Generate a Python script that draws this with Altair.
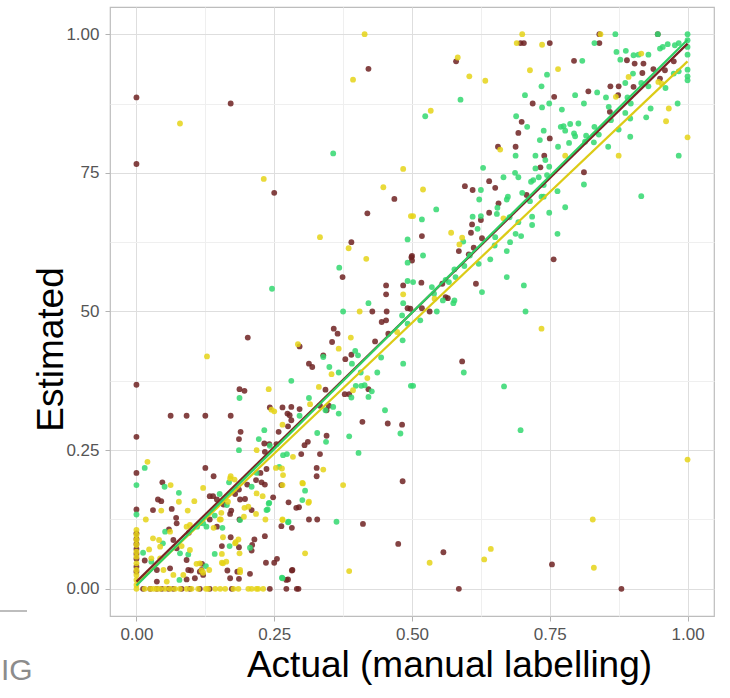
import altair as alt
import pandas as pd

# ---- data (actual, estimated) ----
brown_pts = [
    (0.421,0.9375),(0,0.886),(0.171,0.875),(0,0.766),(0.25,0.714),(0.468,0.703),(0.419,0.677),(0.390,0.625),
    (0.499,0.598),(0.374,0.562),(0.453,0.547),(0.484,0.547),(0.453,0.531),(0.497,0.505),
    (0.840,1.0),(0.946,1.0),(0.697,0.984),(0.703,0.984),(0.750,0.984),(0.840,0.984),(0.580,0.951),(0.794,0.952),
    (0.758,0.887),(0.719,0.875),(0.820,0.897),(0.860,0.906),(0.875,0.906),(0.874,0.890),(0.890,0.953),(0.904,0.947),
    (0.920,0.947),(0.918,0.930),(0.938,0.937),(0.950,0.920),(0.959,0.935),(0.975,0.951),(0.902,0.905),(0.859,0.860),
    (0.699,0.842),(0.693,0.822),(0.750,0.812),(0.656,0.797),(0.688,0.797),(0.740,0.781),(0.596,0.726),(0.610,0.719),
    (0.640,0.735),(0.651,0.723),(0.733,0.760),(0.812,0.751),(0.708,0.710),(0.518,0.636),(0.585,0.609),(0.609,0.657),
    (0.607,0.642),(0.625,0.665),(0.640,0.678),(0.657,0.695),(0.627,0.632),(0.612,0.615),(0.603,0.603),(0.555,0.550),
    (0.517,0.552),(0.757,0.594),(0.616,0.550),(0.500,0.600),(0.500,0.592),(0.561,0.526),(0.565,0.524),
    (0.428,0.500),(0.454,0.500),(0.492,0.506),(0.445,0.481),(0.453,0.484),(0.457,0.460),(0.358,0.469),(0.365,0.460),
    (0.433,0.446),(0.355,0.445),(0.390,0.422),(0.379,0.414),(0.421,0.360),(0.386,0.351),(0.378,0.351),(0.202,0.453),
    (0.296,0.437),(0,0.368),(0,0.274),(0.062,0.312),(0.091,0.312),(0.125,0.312),(0.171,0.312),(0.187,0.360),
    (0.196,0.357),(0.313,0.406),(0.319,0.400),(0.339,0.421),(0.343,0.359),(0.349,0.330),(0.345,0.322),(0.333,0.330),
    (0.345,0.276),(0.410,0.301),(0.456,0.298),(0.482,0.296),(0.242,0.327),(0.265,0.327),(0.281,0.328),(0.296,0.324),
    (0.274,0.316),(0.278,0.313),(0.281,0.304),(0.275,0.293),(0.258,0.283),(0.189,0.283),(0.186,0.270),(0.232,0.262),
    (0.241,0.261),(0.233,0.247),(0.254,0.261),(0.299,0.243),(0.305,0.259),(0.311,0.265),(0.333,0.243),(0.327,0.218),
    (0.327,0.203),(0.411,0.117),(0.475,0.081),(0.483,0.194),
    (0,0.209),(0,0.143),(0.047,0.192),(0.039,0.161),(0.045,0.158),(0.030,0.142),(0.064,0.144),(0.072,0.128),
    (0.125,0.218),(0.140,0.203),(0.133,0.167),(0.139,0.167),(0.146,0.161),(0.158,0.152),(0.172,0.141),(0.170,0.135),
    (0.179,0.171),(0.186,0.179),(0.197,0.162),(0.188,0.161),(0.187,0.125),(0.201,0.188),(0.209,0.142),(0.217,0.196),
    (0.225,0.209),(0.227,0.192),(0.236,0.216),(0.233,0.188),(0.248,0.165),(0.263,0.187),(0.276,0.156),(0.290,0.146),
    (0.295,0.147),(0.313,0.125),(0.328,0.125),(0.263,0.113),(0.282,0.110),
    (0.133,0.125),(0.095,0.101),(0.146,0.112),(0.171,0.093),(0.155,0.077),(0.186,0.075),(0.210,0.079),(0.214,0.089),
    (0.209,0.069),(0.233,0.095),(0.235,0.047),(0.250,0.047),(0.255,0.054),(0.275,0.017),(0.282,0.033),(0.165,0.033),
    (0.186,0.018),(0.119,0.045),(0.099,0.033),
    (0.518,0.506),(0.532,0.500),(0.591,0.410),(0.557,0.066),(0.754,0.044),(0.585,0.0),(0.880,0.0),
    (0.059,0.107),(0.073,0.118),(0.067,0.088),(0.015,0.051),(0.037,0.034),(0.073,0.073),(0.091,0.052),(0.061,0.037),
    (0.094,0.034),(0.106,0.019),(0.118,0.034),(0.091,0.017),(0.037,0.013),(0.115,0.031),(0.121,0.025),(0.183,0.031),
    (0.206,0.027),(0.170,0.019),(0.283,0.034),(0.272,0.016),
    (0,0.100),(0,0.090),(0,0.081),(0,0.072),(0,0.063),(0,0.054),(0,0.040),(0,0.031),
    (0.012,0),(0.025,0),(0.037,0),(0.046,0),(0.058,0),(0.067,0),(0.082,0),(0.097,0),(0.115,0),(0.133,0),
    (0.173,0),(0.242,0),(0.272,0),(0.291,0),(0.294,0),
]

green_pts = [
    (0.357,0.785),(0.492,0.630),(0.368,0.579),(0.492,0.588),(0.246,0.541),(0.421,0.515),(0.484,0.515),(0.492,0.555),
    (0.869,1.0),(1.0,1.0),(0.946,1.0),(0.831,0.984),(0.809,0.952),(0.745,0.927),(0.588,0.882),(0.524,0.852),(0.735,0.906),
    (0.705,0.890),(0.749,0.875),(0.736,0.868),(0.796,0.890),(0.812,0.875),(0.836,0.895),(0.852,0.886),(0.871,0.968),
    (0.878,0.954),(0.888,0.970),(0.902,0.962),(0.911,0.963),(0.929,0.963),(0.901,0.929),(0.950,0.974),(0.955,0.977),
    (0.964,0.982),(0.977,0.980),(0.984,0.984),(1.0,0.989),(1.0,0.977),(1.0,0.963),(1.0,0.936),(1.0,0.924),(1.0,0.917),
    (0.960,0.903),(0.975,0.929),(0.984,0.933),(0.929,0.906),(0.916,0.912),(0.887,0.912),(0.891,0.886),(0.897,0.875),
    (0.887,0.858),(0.896,0.848),(0.933,0.866),(0.925,0.850),(0.982,0.875),(0.896,0.815),(0.984,0.781),(0.916,0.708),
    (0.857,0.869),(0.861,0.845),(0.875,0.828),(0.856,0.797),(0.831,0.833),(0.830,0.805),(0.839,0.819),(0.802,0.839),
    (0.794,0.821),(0.785,0.804),(0.775,0.834),(0.787,0.838),(0.770,0.833),(0.778,0.826),(0.765,0.797),(0.772,0.864),
    (0.796,0.816),(0.816,0.817),(0.814,0.806),(0.689,0.852),(0.709,0.833),(0.739,0.826),(0.732,0.809),(0.688,0.781),
    (0.724,0.781),(0.742,0.773),(0.629,0.759),(0.625,0.719),(0.666,0.742),(0.687,0.750),(0.693,0.742),(0.716,0.734),
    (0.720,0.737),(0.724,0.758),(0.749,0.761),(0.730,0.742),(0.745,0.746),(0.739,0.728),(0.764,0.717),(0.739,0.707),
    (0.735,0.707),(0.812,0.729),(0.674,0.707),(0.672,0.702),(0.714,0.699),(0.700,0.714),(0.544,0.684),(0.518,0.666),
    (0.520,0.601),(0.593,0.626),(0.610,0.671),(0.622,0.702),(0.619,0.649),(0.625,0.672),(0.655,0.687),(0.654,0.676),
    (0.677,0.670),(0.693,0.661),(0.718,0.671),(0.718,0.656),(0.749,0.678),(0.778,0.688),(0.764,0.640),(0.650,0.619),
    (0.651,0.634),(0.678,0.625),(0.688,0.640),(0.698,0.636),(0.672,0.609),(0.642,0.594),(0.621,0.586),(0.605,0.601),
    (0.595,0.582),(0.577,0.576),(0.567,0.553),(0.579,0.562),(0.561,0.557),(0.502,0.553),(0.536,0.544),(0.672,0.562),
    (0.703,0.547),(0.627,0.535),(0.540,0.532),(0.556,0.520),(0.577,0.520),(0.575,0.515),
    (0.375,0.500),(0.482,0.493),(0.492,0.478),(0.483,0.448),(0.484,0.406),(0.498,0.366),(0.397,0.429),(0.402,0.421),
    (0.391,0.406),(0.407,0.390),(0.414,0.367),(0.421,0.346),(0.427,0.356),(0.437,0.390),(0.444,0.417),(0.398,0.366),
    (0.408,0.366),(0.390,0.345),(0.187,0.344),(0.281,0.375),(0.350,0.400),(0.367,0.390),(0.339,0.418),(0.313,0.344),
    (0.357,0.328),(0.367,0.316),(0.343,0.322),(0.328,0.281),(0.344,0.265),(0.386,0.275),(0.479,0.280),(0.403,0.245),
    (0.451,0.322),(0.296,0.312),(0.232,0.286),(0.222,0.270),(0.186,0.250),(0.242,0.258),(0.266,0.241),(0.273,0.243),
    (0.363,0.121),
    (0,0.187),(0,0.134),(0.015,0.218),(0.051,0.184),(0.077,0.173),(0.151,0.171),(0.168,0.192),(0.164,0.151),
    (0.209,0.184),(0.218,0.209),(0.238,0.143),(0.241,0.155),(0.259,0.220),(0.306,0.177),(0.301,0.160),(0.276,0.121),
    (0.115,0.118),(0.121,0.118),(0.110,0.112),(0.127,0.112),(0.142,0.132),(0.156,0.110),(0.169,0.077),(0.142,0.063),
    (0.264,0.020),
    (0.545,0.500),(0.515,0.484),(0.706,0.500),(0.594,0.390),(0.502,0.366),(0.667,0.365),(0.697,0.286),
    (0.052,0.103),(0.048,0.082),(0.012,0.065),(0.027,0.049),(0.079,0.064),(0.094,0.062),(0.078,0.016),(0.206,0.074),
    (0.126,0.041),(0.265,0.019),(0.240,0.154),(0.236,0.142),(0.188,0.124),(0.275,0.120),
]

yellow_pts = [
    (0.414,1.0),(0.393,0.918),(0.079,0.839),(0.484,0.757),(0.231,0.739),(0.448,0.724),(0.498,0.672),(0.333,0.634),
    (0.385,0.614),(0.417,0.595),(0.484,0.531),
    (0.700,1.0),(0.842,1.0),(0.690,0.984),(0.736,0.981),(0.583,0.958),(0.604,0.924),(0.633,0.916),(0.714,0.935),
    (0.765,0.937),(0.534,0.862),(0.870,0.887),(0.916,0.965),(0.893,0.923),(0.947,0.914),(0.953,0.911),(0.966,0.866),
    (0.961,0.843),(1.0,0.814),(0.875,0.781),(0.660,0.792),(0.778,0.781),(0.520,0.720),(0.502,0.672),(0.571,0.642),
    (0.591,0.633),(0.586,0.621),(0.666,0.668),(0.541,0.523),
    (0.405,0.500),(0.473,0.463),(0.389,0.453),(0.367,0.433),(0.419,0.380),(0.393,0.358),(0.128,0.419),(0.293,0.441),
    (0.240,0.360),(0.354,0.387),(0.331,0.364),(0.315,0.333),(0.245,0.323),(0.250,0.320),(0.265,0.296),(0.218,0.250),
    (0.284,0.238),(0.339,0.215),(0.375,0.187),(0.386,0.032),
    (0.020,0.229),(0.062,0.187),(0.077,0.157),(0.045,0.141),(0.093,0.141),(0.105,0.158),(0.017,0.125),(0.121,0.182),
    (0.154,0.137),(0.171,0.203),(0.178,0.197),(0.166,0.157),(0.196,0.146),(0.217,0.135),(0.229,0.167),(0.253,0.218),
    (0.266,0.205),(0.301,0.191),(0.313,0.157),(0.234,0.125),(0.265,0.125),(0.306,0.064),
    (0.097,0.115),(0.091,0.112),(0.140,0.110),(0.153,0.125),(0.157,0.093),(0.180,0.084),(0.155,0.047),(0.163,0.049),
    (0.188,0.030),(0.118,0.033),(0.121,0.029),
    (0.735,0.469),(1.0,0.233),(0.828,0.125),(0.532,0.047),(0.643,0.072),(0.631,0.053),(0.830,0.038),
    (0.030,0.091),(0.041,0.088),(0.061,0.103),(0.043,0.076),(0.023,0.071),(0.027,0.055),(0.043,0.055),(0.049,0.034),
    (0.082,0.077),(0.097,0.070),(0.067,0.025),(0.109,0.045),(0.085,0.025),(0.115,0.046),(0.055,0.013),(0.132,0.034),
    (0.188,0.034),(0.185,0.089),(0.179,0.082),(0.187,0.064),(0.155,0.063),(0.157,0.046),(0.151,0.125),(0.195,0.130),
    (0.203,0.148),(0.218,0.172),(0.264,0.217),(0.265,0.187),(0.312,0.155),(0.302,0.190),(0.265,0.124),(0.170,0.199),
    (0,0.106),(0,0.097),(0,0.088),(0,0.079),(0,0.067),(0,0.058),(0,0.046),(0,0.034),(0,0.025),(0,0.016),(0,0.007),(0,0),
    (0.015,0),(0.025,0),(0.031,0),(0.037,0),(0.043,0),(0.052,0),(0.061,0),(0.070,0),(0.079,0),(0.091,0),(0.100,0),
    (0.112,0),(0.126,0),(0.130,0),(0.143,0),(0.152,0),(0.161,0),(0.176,0),(0.185,0),(0.203,0),(0.209,0),(0.218,0),
    (0.221,0),(0.230,0),
]

# fitted lines (start and end values)
fit_groups = ["yellow", "brown", "green"]
fit_x = [[0, 1], [0, 1], [0, 1]]
fit_y = [[0.008, 0.951], [0.013, 0.983], [0.006, 0.990]]

groups = ["brown", "green", "yellow"]
point_colors = ["#6E2222", "#33D870", "#E5D418"]
line_colors = ["#7A2424", "#2ECF63", "#DCCB16"]

rows = []
for g, pts in zip(groups, [brown_pts, green_pts, yellow_pts]):
    for x, y in pts:
        rows.append({"grp": g, "x": x, "y": y})
df = pd.DataFrame(rows)

lrows = []
for g, xs_, ys_ in zip(fit_groups, fit_x, fit_y):
    for x, y in zip(xs_, ys_):
        lrows.append({"grp": g, "x": x, "y": y})
ldf = pd.DataFrame(lrows)

tick_vals = [0, 0.125, 0.25, 0.375, 0.5, 0.625, 0.75, 0.875, 1.0]
FONT = "Liberation Sans"
minor_test = "datum.value % 0.25 != 0"

common_axis = dict(
    values=tick_vals,
    domain=False,
    tickSize=5,
    tickColor={"condition": {"test": minor_test, "value": "transparent"}, "value": "#B3B3B3"},
    gridColor={"condition": {"test": minor_test, "value": "#EFEFEF"}, "value": "#DEDEDE"},
    gridWidth=1,
    labelFont=FONT,
    labelFontSize=17,
    labelColor="#555555",
    titleFont=FONT,
    titleFontWeight="normal",
    titleColor="#000000",
    titleAlign="center",
    titleBaseline="alphabetic",
)

x_axis = alt.Axis(
    title="Actual (manual labelling)",
    labelExpr="datum.value % 0.25 == 0 ? format(datum.value, '.2f') : ''",
    labelPadding=5,
    titleFontSize=37,
    titleX=339,
    titleY=60,
    **common_axis,
)
y_axis = alt.Axis(
    title="Estimated",
    labelExpr=("datum.value == 0.75 ? '75' : datum.value == 0.5 ? '50' : "
               "(datum.value % 0.25 == 0 ? format(datum.value, '.2f') : '')"),
    labelPadding=6,
    titleFontSize=37,
    titleAngle=270,
    titleX=-48,
    titleY=342,
    **common_axis,
)

xs = alt.Scale(domain=[-0.048, 1.048], nice=False, zero=False)
ys = alt.Scale(domain=[-0.049, 1.049], nice=False, zero=False)

points = alt.Chart(df).mark_circle(size=34, opacity=0.85).encode(
    x=alt.X("x:Q", scale=xs, axis=x_axis),
    y=alt.Y("y:Q", scale=ys, axis=y_axis),
    color=alt.Color("grp:N", scale=alt.Scale(domain=groups, range=point_colors), legend=None),
)

lines = alt.Chart(ldf).mark_line(strokeWidth=2.2).encode(
    x=alt.X("x:Q", scale=xs),
    y=alt.Y("y:Q", scale=ys),
    color=alt.Color("grp:N", scale=alt.Scale(domain=groups, range=line_colors), legend=None),
    detail="grp:N",
)

deco = alt.Data(values=[{"t": "IG"}])
ig_text = alt.Chart(deco).mark_text(
    align="left", baseline="alphabetic", fontSize=30,
    font="Liberation Sans", color="#8C8C8C",
).encode(x=alt.value(-109), y=alt.value(673), text="t:N")
ig_rule = alt.Chart(deco).mark_rule(color="#BDBDBD", strokeWidth=2).encode(
    x=alt.value(-110), x2=alt.value(-83), y=alt.value(604)
)

chart = alt.layer(points, lines, ig_rule, ig_text).resolve_scale(color="independent").properties(
    width=604,
    height=609,
    padding={"left": 110, "top": 7, "right": 16, "bottom": 82},
    autosize=alt.AutoSizeParams(type="none"),
    background="white",
).configure_view(stroke="#BDBDBD", strokeWidth=1.2)

chart.save("out.html", embed_options={"renderer": "svg", "actions": False})
